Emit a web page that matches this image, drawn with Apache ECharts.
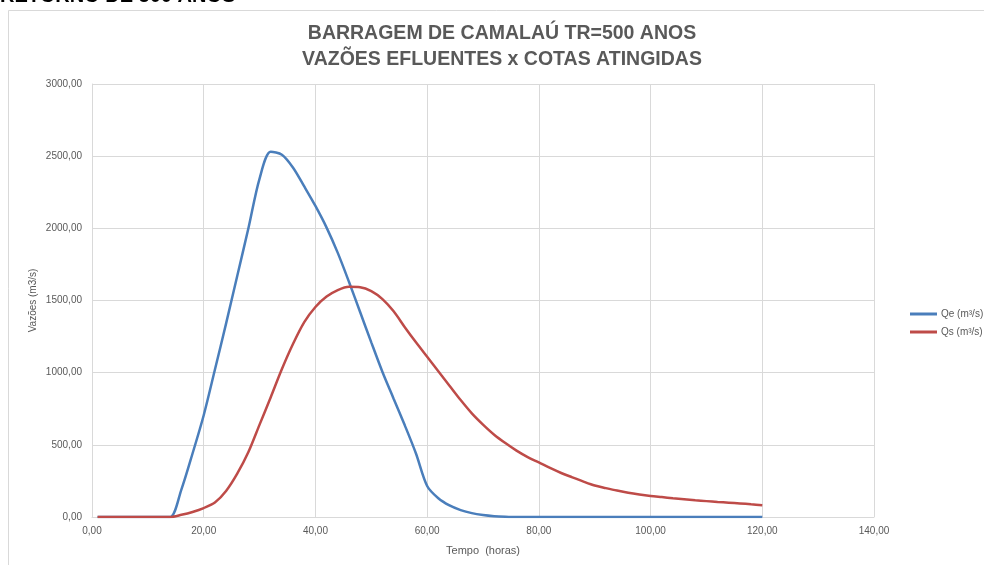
<!DOCTYPE html>
<html>
<head>
<meta charset="utf-8">
<title>Barragem de Camalaú TR=500 anos</title>
<script src="https://cdn.jsdelivr.net/npm/echarts@6/dist/echarts.min.js"></script>
<style>
  html, body { margin: 0; padding: 0; background: #fff; }
  #chart { width: 984px; height: 565px; }
</style>
</head>
<body>
<div id="chart"></div>
<script>
// tempo (horas) e vazões (m3/s)
var tempo = [1, 2, 4, 6, 8, 10, 12, 14, 16, 18, 20, 22, 24, 26, 28, 30, 32, 34, 36, 38, 40,
  42, 44, 46, 48, 50, 52, 54, 56, 58, 60, 62, 64, 66, 68, 70, 72, 74, 76, 78, 80,
  82, 84, 86, 88, 90, 92, 94, 96, 98, 100, 102, 104, 106, 108, 110, 112, 114, 116, 118, 120];

var vazaoQe = [0, 0, 0, 0, 0, 0, 0, 0, 190, 440, 705, 1020, 1340, 1670, 2000, 2345, 2530, 2510, 2420, 2290, 2155,
  2005, 1830, 1630, 1420, 1210, 1005, 820, 635, 440, 215, 130, 80, 48, 27, 14, 6, 2, 0, 0, 0,
  0, 0, 0, 0, 0, 0, 0, 0, 0, 0, 0, 0, 0, 0, 0, 0, 0, 0, 0, 0];

var vazaoQs = [0, 0, 0, 0, 0, 0, 0, 0, 15, 35, 62, 100, 180, 300, 450, 640, 830, 1025, 1200, 1350, 1455,
  1527, 1572, 1595, 1592, 1565, 1510, 1425, 1315, 1210, 1110, 1010, 910, 810, 718, 640, 570, 512, 460, 415, 378,
  340, 305, 275, 245, 218, 200, 183, 168, 156, 146, 138, 130, 123, 116, 110, 104, 99, 94, 88, 82];

var nomesSeries = ['Qe (m³/s)', 'Qs (m³/s)'];

function pares(xs, ys) {
  return xs.map(function (x, i) { return [x, ys[i]]; });
}

function virgula(v) {
  return v.toFixed(2).replace('.', ',');
}

var chart = echarts.init(document.getElementById('chart'));

chart.setOption({
  backgroundColor: '#fff',
  textStyle: { fontFamily: 'Liberation Sans' },
  title: {
    text: 'BARRAGEM DE CAMALAÚ TR=500 ANOS\nVAZÕES EFLUENTES x COTAS ATINGIDAS',
    left: 497,
    textAlign: 'center',
    top: 16,
    textStyle: {
      color: '#595959',
      fontSize: 19.5,
      fontWeight: 'bold',
      lineHeight: 26
    }
  },
  graphic: [
    {
      type: 'rect',
      shape: { x: 8.5, y: 10.5, width: 1000, height: 600 },
      style: { fill: 'none', stroke: '#d9d9d9', lineWidth: 1 },
      silent: true
    },
    {
      type: 'text',
      style: {
        text: 'RETORNO DE 500 ANOS',
        x: 0,
        y: 6,
        verticalAlign: 'bottom',
        fill: '#000',
        font: 'bold 20px Liberation Sans'
      },
      silent: true
    }
  ],
  legend: {
    orient: 'vertical',
    left: 905,
    top: 304,
    itemWidth: 27,
    itemHeight: 3,
    itemGap: 8,
    icon: 'rect',
    textStyle: { color: '#595959', fontSize: 10, padding: [0, 0, 0, -1] },
    data: nomesSeries
  },
  grid: {
    left: 92,
    right: 110,
    top: 84,
    bottom: 48
  },
  xAxis: {
    type: 'value',
    min: 0,
    max: 140,
    interval: 20,
    name: 'Tempo  (horas)',
    nameLocation: 'middle',
    nameGap: 28,
    nameTextStyle: { color: '#595959', fontSize: 11 },
    axisLine: { lineStyle: { color: '#d9d9d9' } },
    axisTick: { show: false },
    axisLabel: { color: '#595959', fontSize: 10, margin: 9, formatter: virgula },
    splitLine: { show: true, lineStyle: { color: '#d9d9d9' } }
  },
  yAxis: {
    type: 'value',
    min: 0,
    max: 3000,
    interval: 500,
    name: 'Vazões (m3/s)',
    nameLocation: 'middle',
    nameGap: 54,
    nameMoveOverlap: false,
    nameTextStyle: { color: '#595959', fontSize: 10 },
    axisLine: { show: true, lineStyle: { color: '#d9d9d9' } },
    axisTick: { show: false },
    axisLabel: { color: '#595959', fontSize: 10, margin: 10, formatter: virgula },
    splitLine: { lineStyle: { color: '#d9d9d9' } }
  },
  series: [
    {
      name: nomesSeries[0],
      type: 'line',
      data: pares(tempo, vazaoQe),
      smooth: 0.3,
      showSymbol: false,
      lineStyle: { width: 2.5, color: '#4a7ebb' },
      itemStyle: { color: '#4a7ebb' }
    },
    {
      name: nomesSeries[1],
      type: 'line',
      data: pares(tempo, vazaoQs),
      smooth: 0.3,
      showSymbol: false,
      lineStyle: { width: 2.5, color: '#be4b48' },
      itemStyle: { color: '#be4b48' }
    }
  ]
});
</script>
</body>
</html>
